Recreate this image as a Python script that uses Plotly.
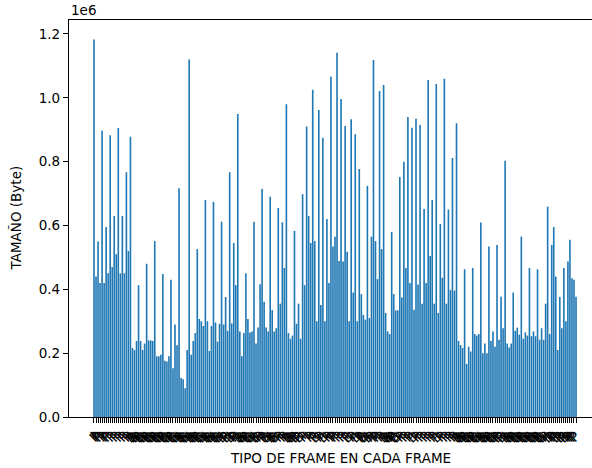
import plotly.graph_objects as go

# Frame sizes in units of 1e6 bytes, one value per frame in order
tamano_1e6 = [
    1.183, 0.44, 0.55, 0.42, 0.897, 0.42, 0.595, 0.45, 0.883, 0.47,
    0.63, 0.51, 0.905, 0.45, 0.63, 0.45, 0.767, 0.52, 0.878, 0.216,
    0.21, 0.238, 0.413, 0.238, 0.21, 0.23, 0.48, 0.24, 0.24, 0.238,
    0.551, 0.19, 0.19, 0.195, 0.448, 0.176, 0.174, 0.19, 0.43, 0.153,
    0.29, 0.225, 0.717, 0.122, 0.118, 0.09, 0.21, 1.12, 0.195, 0.238,
    0.263, 0.526, 0.307, 0.3, 0.285, 0.68, 0.3, 0.207,
    0.285, 0.674, 0.296, 0.236, 0.292, 0.612, 0.29, 0.376, 0.27, 0.767,
    0.293, 0.545, 0.413, 0.949, 0.268, 0.19, 0.263, 0.45, 0.307, 0.265,
    0.268, 0.612, 0.23, 0.28, 0.416, 0.714, 0.361, 0.28, 0.268, 0.69,
    0.335, 0.268, 0.278, 0.655, 0.355, 0.61, 0.467, 0.98, 0.263, 0.245,
    0.255, 0.583, 0.292, 0.355, 0.245, 0.698, 0.413, 0.91, 0.63, 0.545,
    1.025, 0.551, 0.3, 0.962, 0.351, 0.875, 0.3, 0.62, 0.42, 1.066,
    0.534, 0.565, 1.141, 0.489, 0.996, 0.487, 0.912, 0.518, 0.3, 0.933,
    0.39, 0.886, 0.3, 0.777, 0.385, 0.32, 0.305, 0.724, 0.31, 0.565,
    1.118, 0.551, 0.432, 1.021, 0.526, 1.04, 0.326, 0.268, 0.26, 0.58,
    0.385, 0.334, 0.334, 0.752, 0.374, 0.8, 0.467, 0.94, 0.42, 0.906,
    0.336, 0.934, 0.415, 0.915, 0.355, 0.652, 0.42, 1.056, 0.504, 0.68,
    0.355, 1.043, 0.326, 0.605, 0.436, 1.06, 0.355, 0.65, 0.398,
    0.811, 0.396, 0.92, 0.238, 0.225, 0.216, 0.463, 0.166, 0.22, 0.205,
    0.467, 0.26, 0.255, 0.26, 0.609, 0.2, 0.23, 0.2, 0.534, 0.238,
    0.268, 0.22, 0.539, 0.242, 0.377, 0.278, 0.803, 0.23, 0.218, 0.23,
    0.39, 0.27, 0.28, 0.258, 0.565, 0.245, 0.265, 0.255, 0.467, 0.253,
    0.268, 0.253, 0.463, 0.242, 0.278, 0.242, 0.355, 0.659, 0.26, 0.539,
    0.595, 0.44, 0.21, 0.376, 0.278, 0.467, 0.3, 0.487, 0.555, 0.435,
    0.43, 0.377,
]

# Frame type of each frame (I / P / B), used as the x tick labels
tipo_frame = list(
    "IPPPIPPPIPIPIPIPIPI"
    "BBBPBBBPBBBPBBBPBBBPBBBIBBBBIBBBPBBBIBB"
    "BIBBBIBPBI" "BPPIBBBPBB" "BIBBPIPBBI" "BBBIPIPIBB" "BPBPBIPIIP" "IPBIPIBIPI"
    "PPIPIPIPBI" "PIBIPBBIBP" "IPPIPIBBBP" "PBBIPIPIPI" "BIPIPIPIPI" "PIBIPIPIP"
    "IPIBBBPBBB" "PBBBIBBBPB" "BBPBPBIBBB" "PBBBPBBBPB" "BBPBBBPIBP" "PPBPBPBPPP" "PP"
)

y_ticks = [0.0, 0.2, 0.4, 0.6, 0.8, 1.0, 1.2]
y_tick_text = ["0.0", "0.2", "0.4", "0.6", "0.8", "1.0", "1.2"]

n = len(tamano_1e6)
idx = list(range(n))
tick_idx = list(range(len(tipo_frame)))

FONT = "DejaVu Sans"
W, H = 592, 468
L, R, T, B = 69, 0, 20, 51

# x range like a bar chart with 5% padding; the right part of the axes falls off the page
pad = 0.05 * (n - 0.2)
x_lo = -0.4 - pad
x_hi_full = n - 0.6 + pad
x_hi = x_lo + (x_hi_full - x_lo) * (W - L) / (W - L + 9)

fig = go.Figure(
    go.Bar(
        x=idx,
        y=[v * 1e6 for v in tamano_1e6],
        width=0.8,
        marker=dict(color="#1f77b4", line=dict(width=0)),
    )
)

fig.update_layout(
    width=W,
    height=H,
    margin=dict(l=L, r=R, t=T, b=B),
    paper_bgcolor="white",
    plot_bgcolor="white",
    showlegend=False,
    font=dict(family=FONT, size=13.5, color="#000000"),
    xaxis=dict(
        range=[x_lo, x_hi],
        tickmode="array",
        tickvals=tick_idx,
        ticktext=tipo_frame,
        tickangle=-45,
        ticks="outside",
        ticklen=5,
        tickwidth=1,
        tickcolor="#000000",
        tickfont=dict(family=FONT, size=13.5, color="#000000"),
        showline=True,
        linecolor="#000000",
        linewidth=1.1,
        mirror=True,
        showgrid=False,
        zeroline=False,
    ),
    yaxis=dict(
        range=[0, 1.2437e6],
        tickmode="array",
        tickvals=[v * 1e6 for v in y_ticks],
        ticktext=y_tick_text,
        ticks="outside",
        ticklen=5,
        tickwidth=1,
        tickcolor="#000000",
        tickfont=dict(family=FONT, size=13.5, color="#000000"),
        showline=True,
        linecolor="#000000",
        linewidth=1.1,
        showgrid=False,
        zeroline=False,
    ),
    annotations=[
        dict(text="1e6", xref="paper", yref="paper", x=0, y=1,
             xanchor="left", yanchor="bottom", yshift=0, showarrow=False,
             font=dict(family=FONT, size=13.5, color="#000000")),
        dict(text="TAMAÑO (Byte)", xref="paper", yref="paper",
             x=-54 / (W - L - R), y=0.5, xanchor="center", yanchor="middle",
             textangle=-90, showarrow=False,
             font=dict(family=FONT, size=13.5, color="#000000")),
        dict(text="TIPO DE FRAME EN CADA FRAME", xref="paper", yref="paper",
             x=(340 - L) / (W - L - R), y=-(458 - (H - B)) / (H - T - B),
             xanchor="center", yanchor="middle", showarrow=False,
             font=dict(family=FONT, size=13.5, color="#000000")),
    ],
)

# Draw the thin bars with anti-aliased edges so the small gaps between them stay visible
smooth_bars = """
document.querySelectorAll('.barlayer path').forEach(function (p) {
  p.style.shapeRendering = 'geometricPrecision';
});
"""

fig.write_html("out.html", config={"staticPlot": True}, post_script=smooth_bars)
